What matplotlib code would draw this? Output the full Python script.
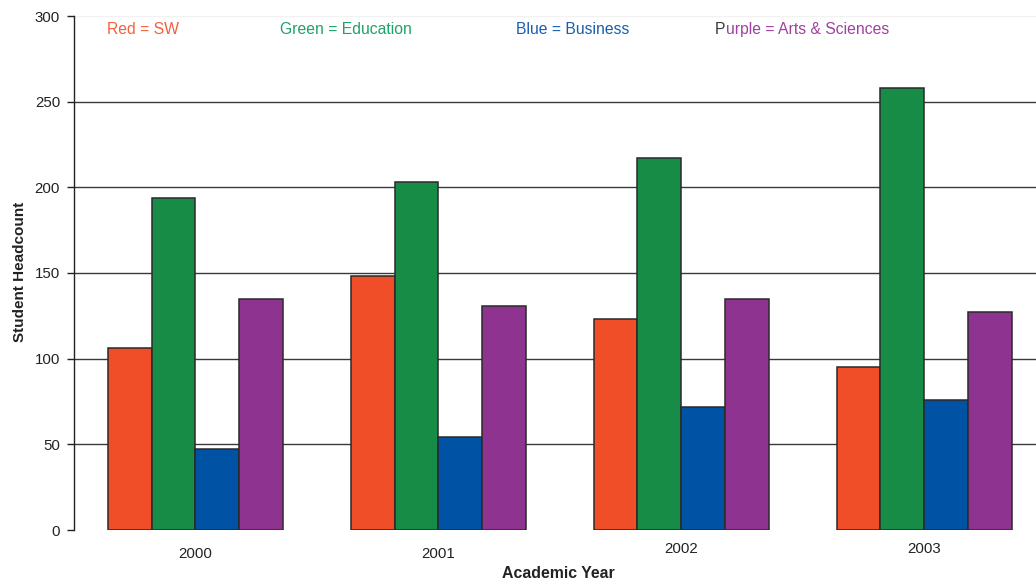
import numpy as np
import matplotlib.pyplot as plt
from matplotlib.transforms import ScaledTranslation

plt.rcParams['font.family'] = ['Liberation Sans', 'DejaVu Sans']

# Headcount by college and academic year
years = ['2000', '2001', '2002', '2003']
sw = [106, 148, 123, 95]
education = [194, 203, 217, 258]
business = [47, 54, 72, 76]
arts_sciences = [135, 131, 135, 127]

series = [sw, education, business, arts_sciences]
bar_colors = ['#F04E28', '#168C46', '#0052A4', '#8E3390']

fig = plt.figure(figsize=(10.36, 5.88), dpi=100)
ax = fig.add_axes([74 / 1036, 58 / 588, 962 / 1036, 514 / 588])

x = np.arange(len(years))
w = 0.181
for i, (vals, col) in enumerate(zip(series, bar_colors)):
    ax.bar(x + (i - 1.5) * w, vals, width=w, color=col,
           edgecolor='#2a2a2a', linewidth=1.1, zorder=3)

ax.set_xlim(-0.5, 3.459)
ax.set_ylim(0, 300)
ax.set_yticks(np.arange(0, 301, 50))
ax.set_xticks(x)
ax.set_xticklabels(years)

for yv in range(50, 300, 50):
    ax.axhline(yv, color='#3a3a3a', linewidth=1.0, zorder=1)
ax.axhline(300, color='#f2f2f2', linewidth=1.0, zorder=1)

for s in ['top', 'right', 'bottom']:
    ax.spines[s].set_visible(False)
ax.spines['left'].set_color('#222222')
ax.spines['left'].set_linewidth(1.0)

ax.tick_params(axis='y', length=5, width=1, color='#222222', pad=5,
               labelsize=10.8, labelcolor='#222222')
ax.tick_params(axis='x', length=0, pad=12, labelsize=10.8,
               labelcolor='#222222')

# the later year labels sit slightly higher
for lbl in ax.get_xticklabels()[2:]:
    lbl.set_transform(lbl.get_transform() +
                      ScaledTranslation(0, 5 / 100, fig.dpi_scale_trans))

fig.text(20 / 1036, 1 - 272 / 588, 'Student Headcount', rotation=90,
         ha='center', va='center', fontsize=11, fontweight='bold',
         color='#222222')
fig.text(558 / 1036, 1 - 574 / 588, 'Academic Year', ha='center',
         va='center', fontsize=11.4, fontweight='bold', color='#222222')

# colour key along the top
key_y = 1 - 34 / 588
fig.text(107 / 1036, key_y, 'Red = SW', color='#F2603F', fontsize=11.3,
         va='baseline')
fig.text(280 / 1036, key_y, 'Green = Education', color='#1FA26A',
         fontsize=11.3, va='baseline')
fig.text(516 / 1036, key_y, 'Blue = Business', color='#1A5FAE',
         fontsize=11.3, va='baseline')
p = fig.text(715 / 1036, key_y, 'P', color='#3a3a3a', fontsize=11.3,
             va='baseline')
fig.canvas.draw()
bb = p.get_window_extent()
fig.text(bb.x1 / fig.bbox.width, key_y, 'urple = Arts & Sciences',
         color='#A040A0', fontsize=11.3, va='baseline')

fig.savefig('out.png', dpi=100)
